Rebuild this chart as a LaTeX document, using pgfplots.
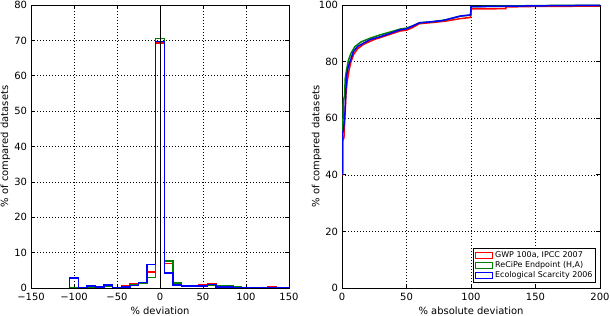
\documentclass[border=0pt]{standalone}
\usepackage{fontspec}
\setmainfont{DejaVu Sans}
\usepackage{pgfplots}
\pgfplotsset{compat=1.18}
\definecolor{mplgreen}{RGB}{0,128,0}
\pgfplotsset{
  /pgf/number format/assume math mode=true,
  common/.style={
    scale only axis,
    width=258bp, height=283bp,
    axis line style={black, line width=0.8bp},
    tick align=inside,
    xtick pos=both, ytick pos=both,
    major tick length=4bp,
    tick style={black, line width=0.6bp},
    grid=major,
    major grid style={black, line width=0.5bp, dash pattern=on 1bp off 2bp},
    tick label style={font=\fontsize{10}{11}\selectfont},
    xticklabel style={yshift=-2bp},
    yticklabel style={xshift=-0.5bp},
    label style={font=\fontsize{10}{11}\selectfont},
    every axis x label/.style={at={(rel axis cs:0.5,0)}, yshift=-22.5bp, anchor=center},
    every axis y label/.style={at={(rel axis cs:0,0.5)}, xshift=-25.5bp, rotate=90, anchor=center},
  },
  hist/.style={const plot, line width=1.5bp, mark=none},
  cdf/.style={line width=1.5bp, mark=none},
}
\newcommand{\legrect}[1]{\draw[#1, line width=1.1bp] (0bp,-3bp) rectangle (17bp,3bp);}
\begin{document}
\begin{tikzpicture}
\path[use as bounding box] (0,0) rectangle (610bp,316bp);
% ---------------- left: histogram of deviation ----------------
\begin{axis}[common,
  at={(31bp,28bp)}, anchor=south west,
  xmin=-150, xmax=150, ymin=0, ymax=80,
  xtick={-150,-100,-50,0,50,100,150},
  xticklabels={−150,−100,−50,0,50,100,150},
  ytick={0,10,...,80},
  xlabel={\% deviation},
  ylabel={\% of compared datasets},
]
% GWP 100a, IPCC 2007
\addplot[hist, red] coordinates {
(-105,0) (-105,0.1) (-95,0.1) (-85,0.3) (-75,0.2) (-65,0.4) (-55,0.2) (-45,0.5)
(-35,1.1) (-25,1.3) (-15,4.5) (-5,69.2) (5,6.9) (15,1.1) (25,0.4) (35,0.5)
(45,0.9) (55,1.3) (65,0.4) (75,0.3) (85,0.3) (95,0.2) (105,0.1) (115,0.2)
(125,0.3) (135,0.1) (145,0) (155,0)};
% ReCiPe Endpoint (H,A)
\addplot[hist, mplgreen] coordinates {
(-105,0) (-105,0.1) (-95,0.1) (-85,0.3) (-75,0.2) (-65,0.6) (-55,0.2) (-45,0.3)
(-35,0.8) (-25,1.4) (-15,2.9) (-5,70.5) (5,7.7) (15,1.4) (25,0.6) (35,0.6)
(45,0.6) (55,0.9) (65,0.7) (75,0.6) (85,0.3) (95,0.1) (105,0.1) (115,0.1)
(125,0.1) (135,0.1) (145,0) (155,0)};
% Ecological Scarcity 2006
\addplot[hist, blue] coordinates {
(-105,0) (-105,2.8) (-95,0.2) (-85,0.5) (-75,0.3) (-65,0.8) (-55,0.2) (-45,0.3)
(-35,0.7) (-25,1.5) (-15,6.6) (-5,69.7) (5,4.2) (15,0.9) (25,0.6) (35,0.6)
(45,0.6) (55,1.0) (65,0.3) (75,0.3) (85,0.2) (95,0.1) (105,0.1) (115,0.1)
(125,0.1) (135,0.05) (145,0) (155,0)};
\addplot[black, line width=0.8bp, mark=none] coordinates {(0,0) (0,80)};
\end{axis}
% ---------------- right: cumulative absolute deviation ----------------
\begin{axis}[common,
  at={(342bp,28bp)}, anchor=south west,
  xmin=0, xmax=200, ymin=0, ymax=100,
  xtick={0,50,...,200},
  ytick={0,20,...,100},
  xlabel={\% absolute deviation},
  ylabel={\% of compared datasets},
  legend cell align=left,
  legend style={at={(rel axis cs:0.985,0.018)}, anchor=south east,
    font=\fontsize{8}{9}\selectfont, draw=black, line width=0.8bp,
    inner sep=1.2bp, row sep=-1.5bp},
]
\addplot[cdf, red, legend image code/.code={\legrect{red}}] coordinates {
(0,40) (0.5,40) (0.5,52) (1.5,53) (2,58) (3,68) (4,73) (5.5,77) (7,80) (9,82.5)
(12,84.5) (17,86.2) (25,87.8) (35,89.3) (45,90.8) (50,91.1) (55,92.1) (60,93.4)
(70,93.8) (80,94.3) (92,95.2) (99.7,95.6) (100,98.6) (127,98.7) (127,99.3)
(150,99.5) (200,99.6)};
\addlegendentry{GWP 100a, IPCC 2007}
\addplot[cdf, mplgreen, legend image code/.code={\legrect{mplgreen}}] coordinates {
(0,40) (0,57) (0.7,58) (1,65.9) (2,68) (2.5,74) (3.5,77) (5,80.5) (7,83)
(10,85.3) (15,87) (22,88.3) (30,89.5) (40,90.8) (45,91.5) (50,91.8) (55,92.7)
(60,93.7) (70,94.1) (80,94.7) (92,96.1) (99.7,96.4) (100,99.4) (150,99.8) (200,99.9)};
\addlegendentry{ReCiPe Endpoint (H,A)}
\addplot[cdf, blue, legend image code/.code={\legrect{blue}}] coordinates {
(0,40) (0.5,41) (0.5,54.7) (1.2,56) (2.3,61.7) (3,70) (3.6,74.8) (4.5,77.5)
(6.2,80) (8.8,83.5) (12,85.3) (16.6,86.5) (22,87.8) (29.6,88.8) (40,90.4)
(45,91.2) (50,91.6) (55,92.6) (60,93.7) (70,94.1) (78,94.5) (92,96.1)
(99.7,96.5) (100,99.4) (150,99.7) (200,99.9)};
\addlegendentry{Ecological Scarcity 2006}
\end{axis}
\end{tikzpicture}
\end{document}
